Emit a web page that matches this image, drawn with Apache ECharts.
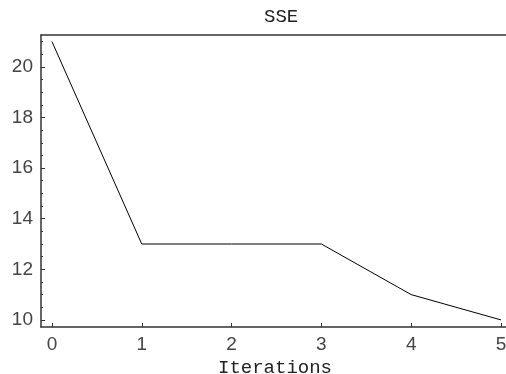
<!DOCTYPE html>
<html>
<head>
<meta charset="utf-8">
<script src="https://cdn.jsdelivr.net/npm/echarts@6/dist/echarts.min.js"></script>
<style>html,body{margin:0;padding:0;background:#fff}#c{width:506px;height:374px}</style>
</head>
<body>
<div id="c"></div>
<script>
var iterations = [0, 1, 2, 3, 4, 5];
var sse = [21, 13, 13, 13, 11, 10];
var xTicks = [0, 1, 2, 3, 4, 5];
var yTicks = [10, 12, 14, 16, 18, 20];
var yMinorTicks = [10, 10.5, 11, 11.5, 12, 12.5, 13, 13.5, 14, 14.5, 15, 15.5, 16, 16.5, 17, 17.5, 18, 18.5, 19, 19.5, 20, 20.5, 21];
var titleText = 'SSE';
var xName = 'Iterations';

var xMin = -0.122, xMax = 5.056, yMin = 9.72, yMax = 21.26;
var axisCol = '#333';
var chart = echarts.init(document.getElementById('c'));
chart.setOption({
  animation: false,
  title: {
    text: titleText, left: 259, top: 2,
    textStyle: {fontFamily: "'Courier New', 'Liberation Mono', monospace", fontSize: 19, fontWeight: 'normal', color: '#222'}
  },
  grid: {left: 41, right: 0, top: 35, bottom: 47, containLabel: false, outerBoundsMode: 'none'},
  xAxis: [{
    type: 'value', min: xMin, max: xMax, position: 'bottom',
    name: xName, nameLocation: 'middle', nameGap: 25,
    nameTextStyle: {fontFamily: "'Courier New', 'Liberation Mono', monospace", fontSize: 19, color: '#222', padding: [0, 0, 0, 3]},
    axisLine: {show: true, onZero: false, lineStyle: {color: axisCol, width: 1.5}},
    axisTick: {show: true, inside: true, length: 4, customValues: xTicks, lineStyle: {color: axisCol}},
    axisLabel: {customValues: xTicks, margin: 8, fontFamily: 'Liberation Sans', fontSize: 19, color: '#444'},
    splitLine: {show: false}
  }, {
    type: 'value', min: xMin, max: xMax, position: 'top',
    axisLine: {show: true, onZero: false, lineStyle: {color: axisCol, width: 1.5}},
    axisTick: {show: false}, axisLabel: {show: false}, splitLine: {show: false}
  }],
  yAxis: [{
    type: 'value', min: yMin, max: yMax, position: 'left',
    axisLine: {show: true, onZero: false, lineStyle: {color: axisCol, width: 1.5}},
    axisTick: {show: true, inside: true, length: 4, customValues: yTicks, lineStyle: {color: axisCol}},
    axisLabel: {customValues: yTicks, margin: 8, fontFamily: 'Liberation Sans', fontSize: 19, color: '#444'},
    splitLine: {show: false}
  }, {
    type: 'value', min: yMin, max: yMax, position: 'left', offset: 0,
    axisLine: {show: false, onZero: false},
    axisTick: {show: true, inside: true, length: 2, customValues: yMinorTicks, lineStyle: {color: axisCol}},
    axisLabel: {show: false}, splitLine: {show: false}
  }],
  series: [{
    type: 'line', xAxisIndex: 0, yAxisIndex: 0,
    data: iterations.map(function (x, i) { return [x, sse[i]]; }),
    symbol: 'none', lineStyle: {color: '#000', width: 1}
  }]
});
</script>
</body>
</html>
